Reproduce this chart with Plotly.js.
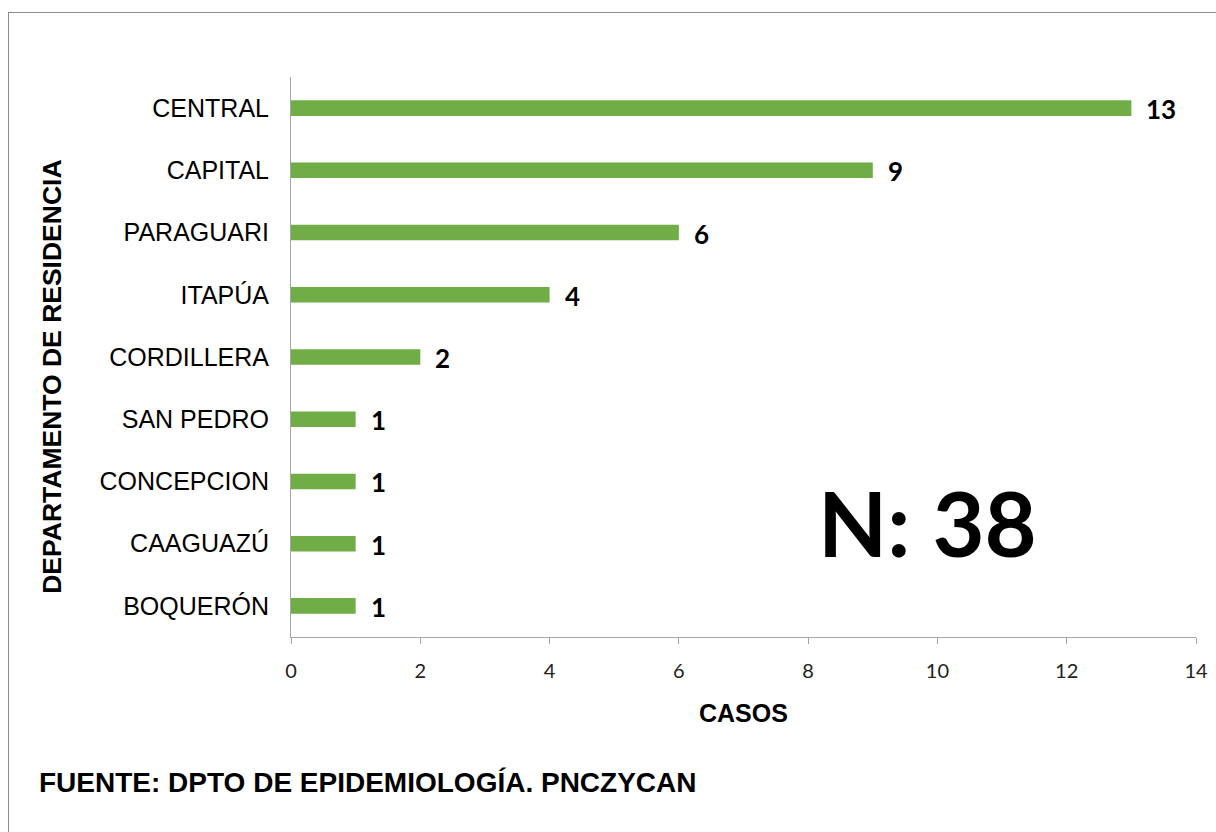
<!DOCTYPE html>
<html>
<head>
<meta charset="utf-8">
<script src="https://cdn.plot.ly/plotly-3.0.1.min.js"></script>
<style>
html,body{margin:0;padding:0;background:#fff;overflow:hidden;}
#frame{position:absolute;left:8px;top:12px;width:1300px;height:900px;border:1px solid #8c8c8c;box-sizing:border-box;}
#chart{position:absolute;left:0;top:0;width:1216px;height:832px;}
</style>
</head>
<body>
<div id="frame"></div>
<div id="chart"></div>
<script>
const categories = ["BOQUERÓN","CAAGUAZÚ","CONCEPCION","SAN PEDRO","CORDILLERA","ITAPÚA","PARAGUARI","CAPITAL","CENTRAL"];
const casos = [1,1,1,1,2,4,6,9,13];
const xTicks = [0,2,4,6,8,10,12,14];
const totalLabel = "N: 38";
const yTitle = "DEPARTAMENTO DE RESIDENCIA";
const xTitle = "CASOS";
const fuente = "FUENTE: DPTO DE EPIDEMIOLOGÍA. PNCZYCAN";

const trace = {
  type: "bar",
  orientation: "h",
  y: categories,
  x: casos,
  width: 0.25,
  marker: {color: "#70AD47"},
  hoverinfo: "none"
};

const annotations = casos.map((v, i) => ({
  x: v, y: categories[i], xref: "x", yref: "y",
  text: String(v), showarrow: false, xanchor: "left", yanchor: "middle",
  xshift: 13, yshift: -1,
  font: {family: "Lato", size: 26, color: "#000", weight: 700}
}));
annotations.push({
  xref: "paper", yref: "paper", x: 0.703, y: 0.206,
  text: "<b>" + totalLabel + "</b>", showarrow: false, xanchor: "center", yanchor: "middle",
  font: {family: "Lato", size: 90, color: "#000"}
});
annotations.push({
  xref: "paper", yref: "paper", x: -0.265, y: 0.465,
  text: "<b>" + yTitle + "</b>", showarrow: false, textangle: -90, xanchor: "center", yanchor: "middle",
  font: {family: "Liberation Sans", size: 26.5, color: "#000"}
});
annotations.push({
  xref: "paper", yref: "paper", x: 0.5, y: -0.135,
  text: "<b>" + xTitle + "</b>", showarrow: false, xanchor: "center", yanchor: "middle",
  font: {family: "Liberation Sans", size: 25, color: "#000"}
});
annotations.push({
  xref: "paper", yref: "paper", x: -0.281, y: -0.26,
  text: "<b>" + fuente + "</b>", showarrow: false, xanchor: "left", yanchor: "middle",
  font: {family: "Liberation Sans", size: 28, color: "#000"}
});

const layout = {
  width: 1216, height: 832,
  margin: {l: 291, r: 20, t: 77, b: 195},
  paper_bgcolor: "rgba(0,0,0,0)",
  plot_bgcolor: "rgba(0,0,0,0)",
  showlegend: false,
  xaxis: {
    range: [0, 14], tickvals: xTicks, ticktext: xTicks.map(String),
    showgrid: false, zeroline: false,
    showline: true, linecolor: "#a6a6a6", linewidth: 1,
    ticks: "outside", ticklen: 6, tickcolor: "#a6a6a6",
    ticklabelstandoff: 10,
    tickfont: {family: "Lato", size: 20, color: "#222"},
    fixedrange: true
  },
  yaxis: {
    type: "category", categoryorder: "array", categoryarray: categories,
    showgrid: false, zeroline: false,
    showline: true, linecolor: "#a6a6a6", linewidth: 1,
    ticks: "", ticklabelstandoff: 16,
    tickfont: {family: "Liberation Sans", size: 25, color: "#000"},
    fixedrange: true
  },
  annotations: annotations
};

Plotly.newPlot("chart", [trace], layout, {displayModeBar: false, staticPlot: true});
</script>
</body>
</html>
